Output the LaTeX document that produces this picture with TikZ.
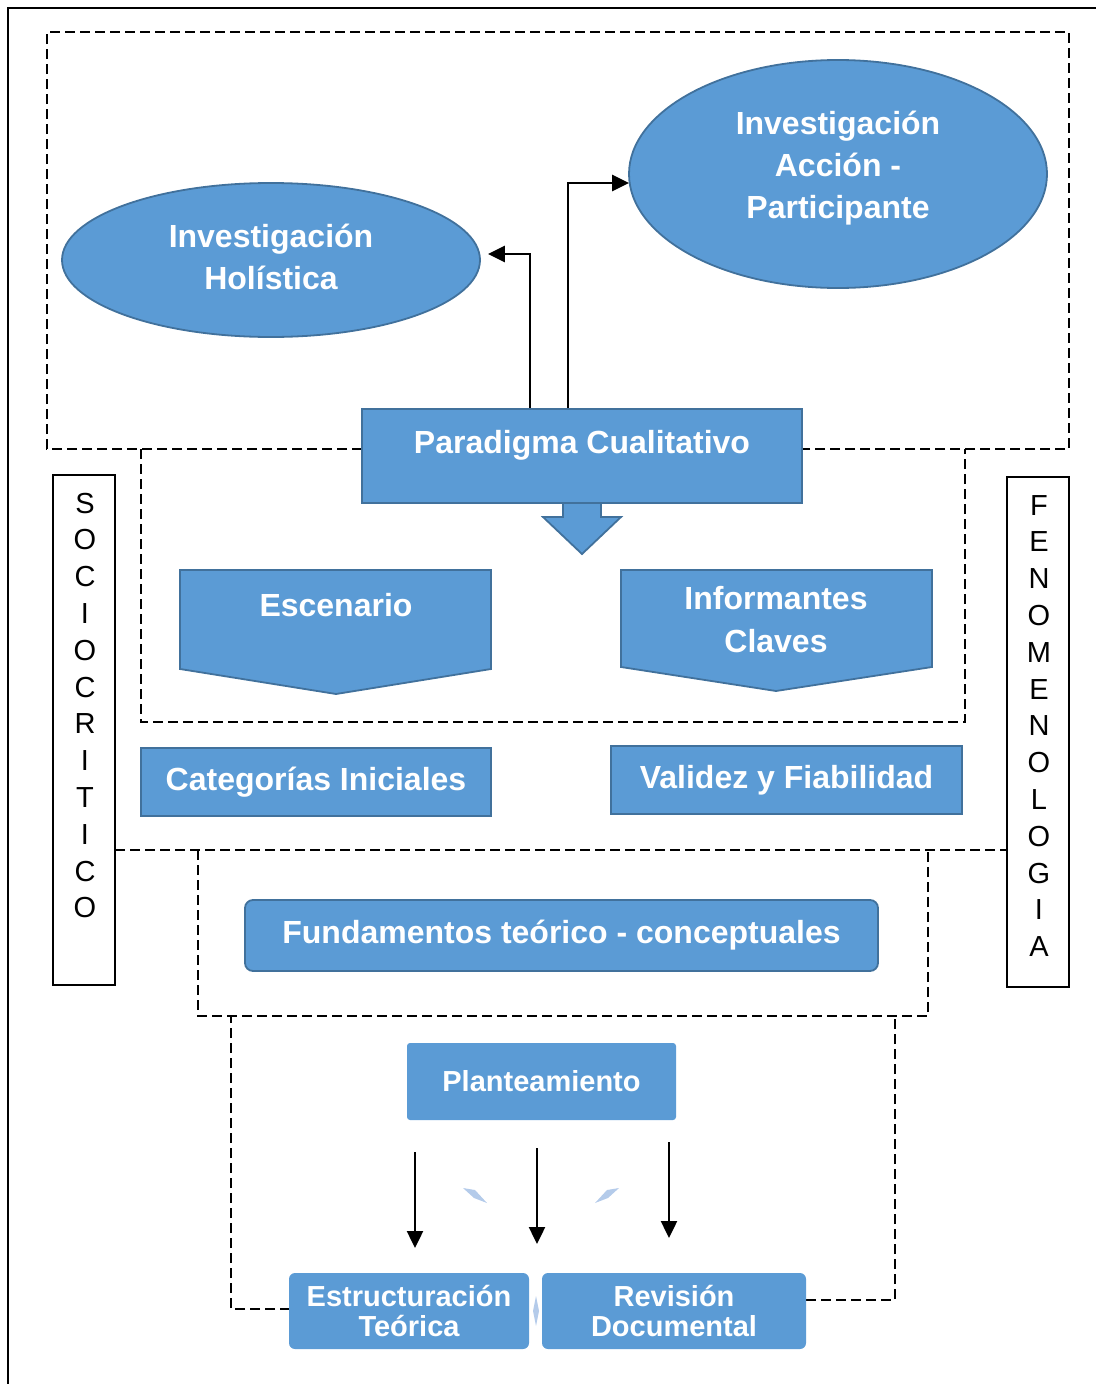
\documentclass[tikz,border=0pt]{standalone}
\usepackage{fontspec}
\setmainfont{Liberation Sans}
\usetikzlibrary{shapes.geometric,arrows.meta}
\definecolor{boxblue}{HTML}{5B9BD5}
\definecolor{boxline}{HTML}{41719C}
\definecolor{paleblue}{HTML}{B4CBEA}

\begin{document}
\begin{tikzpicture}[
    x=1pt, y=-1pt,
    mainbox/.style={
        draw=boxline,
        fill=boxblue,
        line width=1.8pt,
        text=white,
        align=center,
        inner sep=0pt,
        font=\bfseries\fontsize{32}{42}\selectfont
    },
    ovalbox/.style={mainbox, ellipse},
    softbox/.style={
        fill=boxblue,
        text=white,
        align=center,
        inner sep=0pt,
        rounded corners=6pt,
        font=\bfseries\fontsize{29}{30}\selectfont
    },
    boxtext/.style={
        text=white,
        align=center,
        inner sep=0pt,
        font=\bfseries\fontsize{32}{43}\selectfont
    },
    sidebox/.style={
        draw,
        line width=1.2pt,
        minimum width=62pt,
        minimum height=510pt
    },
    sideletters/.style={
        align=center,
        inner sep=0pt,
        font=\fontsize{29}{36.8}\selectfont
    },
    dashline/.style={dash pattern=on 10pt off 5pt, line width=1.4pt},
    >={Triangle[length=17pt,width=16pt]}
]
\useasboundingbox (0,0) rectangle (1096,1384);

% Outer frame
\draw[line width=1.6pt] (8,1384) -- (8,8) -- (1096,8);

% Dashed zones
\draw[dashline] (362,449) -- (47,449) -- (47,32) -- (1069,32) -- (1069,449) -- (802,449);
\draw[dashline] (141,449) -- (141,722) -- (965,722) -- (965,449);
\draw[dashline] (115,850) -- (1007,850);
\draw[dashline] (198,850) -- (198,1016) -- (928,1016) -- (928,850);
\draw[dashline] (290,1309) -- (231,1309) -- (231,1016);
\draw[dashline] (806,1300) -- (895,1300) -- (895,1016);

% Ellipses
\node[ovalbox, minimum width=418pt, minimum height=154pt, text depth=6pt] (holistica) at (271,260)
{Investigación\\Holística};

\node[ovalbox, minimum width=418pt, minimum height=228pt, text depth=19pt] (accion) at (838,174)
{Investigación\\Acción -\\Participante};

% Paradigm
\draw[draw=boxline, fill=boxblue, line width=1.8pt]
    (563,500) -- (563,517) -- (543,517) -- (582,554) -- (621,517) -- (601,517) -- (601,500);
\node[mainbox, minimum width=440pt, minimum height=94pt, text height=23pt, text depth=28pt] (paradigma) at (582,456)
{Paradigma Cualitativo};

% Scenario shapes
\draw[draw=boxline, fill=boxblue, line width=1.8pt]
    (180,570) -- (491,570) -- (491,669) -- (336,694) -- (180,669) -- cycle;
\node[boxtext] (escenario) at (336,605) {Escenario};

\draw[draw=boxline, fill=boxblue, line width=1.8pt]
    (621,570) -- (932,570) -- (932,667) -- (776,691) -- (621,667) -- cycle;
\node[boxtext] (informantes) at (776,620) {Informantes\\Claves};

% Boxes
\node[mainbox, minimum width=350pt, minimum height=68pt] (categorias) at (316,782)
{Categorías Iniciales};

\node[mainbox, minimum width=351pt, minimum height=68pt] (validez) at (786.5,780)
{Validez y Fiabilidad};

\node[mainbox, rounded corners=8pt, minimum width=633pt, minimum height=71pt] (fundamentos) at (561.5,935.5)
{Fundamentos teórico - conceptuales};

% Side labels
\node[sidebox] (socio) at (84,730) {};
\node[sideletters] (sociotxt) at (85,705.5)
{S\\O\\C\\I\\O\\C\\R\\I\\T\\I\\C\\O};

\node[sidebox] (feno) at (1038,732) {};
\node[sideletters] (fenotxt) at (1039,726)
{F\\E\\N\\O\\M\\E\\N\\O\\L\\O\\G\\I\\A};

% Lower part
\node[softbox, rounded corners=3pt, minimum width=269pt, minimum height=77pt] (planteamiento) at (541.5,1081.5)
{Planteamiento};

\node[softbox, minimum width=240pt, minimum height=76pt] (estructuracion) at (409,1311)
{Estructuración\\Teórica};

\node[softbox, minimum width=264pt, minimum height=76pt] (revision) at (674,1311)
{Revisión\\Documental};

\fill[paleblue] (463,1188) -- (475,1190) -- (487,1203) -- (474,1198) -- cycle;
\fill[paleblue] (619,1188) -- (607,1190) -- (595,1203) -- (608,1198) -- cycle;
\fill[paleblue] (536,1296) -- (539,1311) -- (536,1326) -- (533,1311) -- cycle;

% Connections
\draw[->, line width=2.4pt] ([xshift=-52pt]paradigma.north) |- ([shift={(7pt,6pt)}]holistica.east);
\draw[->, line width=2.4pt] ([xshift=-14pt]paradigma.north) |- ([shift={(1pt,-9pt)}]accion.west);

\coordinate (a1) at (415,1152);
\coordinate (b1) at (415,1248);
\coordinate (a2) at (537,1148);
\coordinate (b2) at (537,1244);
\coordinate (a3) at (669,1142);
\coordinate (b3) at (669,1238);

\draw[->, line width=2.4pt] (a1) -- (b1);
\draw[->, line width=2.4pt] (a2) -- (b2);
\draw[->, line width=2.4pt] (a3) -- (b3);

\end{tikzpicture}
\end{document}
